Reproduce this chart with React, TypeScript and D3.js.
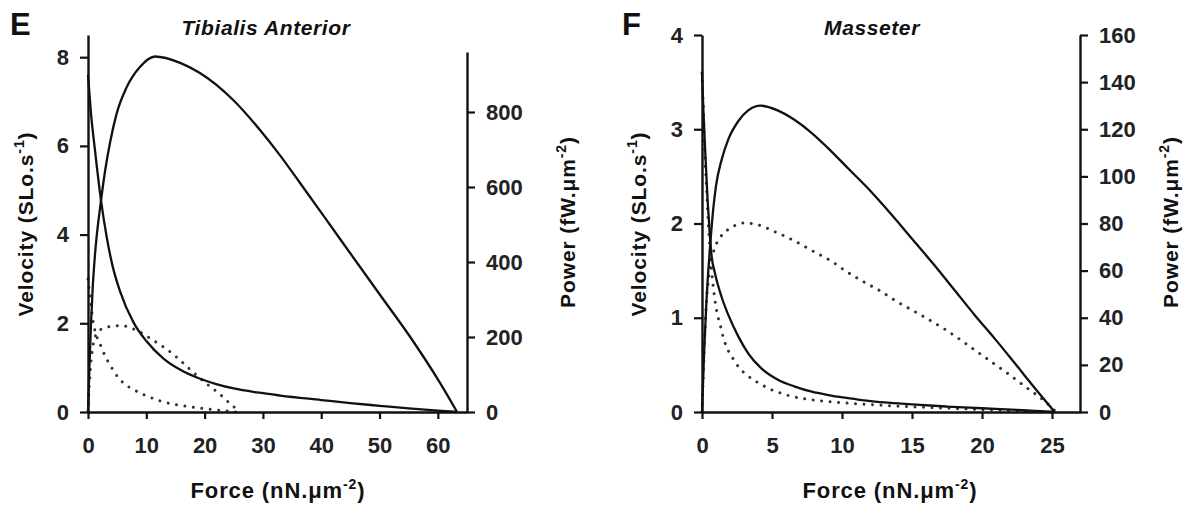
import React, { useEffect, useRef } from "react";
import * as d3 from "d3";

// [force, value] pairs
const taVelocitySolid = [
  [0, 7.6], [0.5, 6.75], [1.2, 5.9], [2.2, 4.8], [3.2, 3.95], [4.2, 3.3], [5.5, 2.72],
  [7.8, 2.02], [10, 1.6], [13, 1.2], [16, 0.94], [19, 0.76], [22, 0.63], [25, 0.53],
  [29, 0.44], [33, 0.37], [40, 0.27], [45, 0.2], [50, 0.14], [55, 0.08], [60, 0.03], [63.4, 0]
];
const taPowerSolid = [
  [0, 0], [0.2, 100], [0.5, 230], [0.8, 330], [1.2, 420], [2.2, 560], [2.9, 640],
  [3.8, 720], [4.9, 795], [6.6, 865], [8.9, 920], [11.5, 948], [15.8, 931], [19.2, 904],
  [24.9, 832], [29.5, 752], [32.9, 685], [36.4, 610], [43.2, 462], [50.1, 312],
  [55.7, 190], [60.4, 77], [63.3, 0]
];
const taVelocityDotted = [
  [0, 3.0], [0.5, 2.4], [1, 1.95], [1.5, 1.7], [2.35, 1.45], [2.9, 1.27], [3.8, 1.06],
  [4.5, 0.9], [5.8, 0.69], [7.3, 0.54], [8.8, 0.44], [10.1, 0.36], [11.7, 0.28],
  [13.1, 0.22], [14.5, 0.18], [16, 0.145], [17.4, 0.12], [18.8, 0.095], [20.3, 0.07],
  [21.8, 0.05], [23.2, 0.03], [25.5, 0]
];
const taPowerDotted = [
  [0, 0], [0.3, 90], [0.7, 160], [1.2, 200], [2, 218], [3, 225], [4.5, 229], [5.5, 230],
  [6.7, 228], [8.1, 219], [9.5, 208], [10.9, 194], [12.4, 179], [13.8, 164], [15.2, 146],
  [16.7, 125], [18.1, 105], [19.5, 86], [21, 67], [22.6, 48], [23.8, 30], [25.3, 8], [25.6, 0]
];

const msVelocitySolid = [
  [0, 3.6], [0.1, 3.2], [0.25, 2.7], [0.4, 2.25], [0.55, 1.9], [0.69, 1.65], [0.93, 1.47],
  [1.4, 1.22], [1.88, 1.03], [2.6, 0.8], [3.31, 0.62], [4.26, 0.46], [5.45, 0.34],
  [6.64, 0.27], [7.84, 0.215], [9.02, 0.18], [10.2, 0.152], [11.4, 0.127], [13.3, 0.099],
  [15, 0.08], [17.5, 0.058], [20, 0.04], [22.5, 0.022], [25.2, 0]
];
const msPowerSolid = [
  [0, 0], [0.15, 25], [0.3, 45], [0.45, 60], [0.6, 72], [0.8, 86], [1.0, 96], [1.4, 107],
  [1.9, 116], [2.6, 123.5], [3.3, 128], [4.2, 130], [5.4, 128], [6.6, 124], [7.8, 118.6],
  [9, 112], [10.5, 103], [12, 94], [13.5, 84], [15, 73.5], [16.5, 63], [18, 52], [19.5, 41],
  [21, 30.5], [22.5, 19.5], [24, 8.5], [25.2, 0]
];
const msVelocityDotted = [
  [0, 3.6], [0.1, 3.2], [0.2, 2.75], [0.33, 2.35], [0.45, 2.0], [0.57, 1.72], [0.69, 1.5],
  [0.81, 1.32], [0.93, 1.18], [1.05, 1.07], [1.29, 0.93], [1.52, 0.79], [1.88, 0.65],
  [2.24, 0.56], [2.6, 0.48], [3.26, 0.385], [3.79, 0.33], [4.38, 0.28], [4.98, 0.235],
  [5.64, 0.2], [6.29, 0.17], [7.5, 0.137], [8.7, 0.115], [9.86, 0.1], [11.05, 0.088],
  [12.2, 0.077], [13.5, 0.066], [15, 0.055], [17.5, 0.04], [20, 0.025], [22.5, 0.012], [25, 0]
];
const msPowerDotted = [
  [0, 0], [0.15, 25], [0.3, 45], [0.5, 58], [0.7, 65], [0.93, 70], [1.29, 74], [1.88, 77.5],
  [2.5, 79.5], [3.07, 80.3], [3.7, 79.8], [4.3, 78.9], [5, 77], [5.6, 75.5], [6.64, 72.5],
  [7.95, 68.2], [9.14, 64.4], [10.3, 59.7], [11.5, 55.4], [12.7, 51.5], [13.8, 47.3],
  [15.8, 40.6], [17.5, 34.5], [19.9, 24.5], [21.8, 16.5], [23.4, 9.4], [24.4, 5], [25.3, 0]
];

const forceTicksE = [0, 10, 20, 30, 40, 50, 60];
const velocityTicksE = [0, 2, 4, 6, 8];
const powerTicksE = [0, 200, 400, 600, 800];
const forceTicksF = [0, 5, 10, 15, 20, 25];
const velocityTicksF = [0, 1, 2, 3, 4];
const powerTicksF = [0, 20, 40, 60, 80, 100, 120, 140, 160];

const FONT = "'Liberation Sans', Arial, Helvetica, sans-serif";

const panels = [
  {
    letter: "E", title: "Tibialis Anterior",
    x: [0, 65], xr: [88, 467], v: [0, 8.5], vr: [412, 35], p: [0, 960], pr: [412, 52],
    xt: forceTicksE, vt: velocityTicksE, pt: powerTicksE,
    vs: taVelocitySolid, ps: taPowerSolid, vd: taVelocityDotted, pd: taPowerDotted,
    letterX: 10, titleX: 266, xLabelX: 278, vLabelX: 25, pLabelX: 567
  },
  {
    letter: "F", title: "Masseter",
    x: [0, 27], xr: [702, 1080], v: [0, 4], vr: [412, 35], p: [0, 160], pr: [412, 35],
    xt: forceTicksF, vt: velocityTicksF, pt: powerTicksF,
    vs: msVelocitySolid, ps: msPowerSolid, vd: msVelocityDotted, pd: msPowerDotted,
    letterX: 622, titleX: 872, xLabelX: 890, vLabelX: 638, pLabelX: 1170
  }
];

export default function App() {
  const ref = useRef(null);

  useEffect(() => {
    const svg = d3.select(ref.current);
    svg.selectAll("*").remove();
    const fmt = d3.format("d");

    panels.forEach(pn => {
      const x = d3.scaleLinear().domain(pn.x).range(pn.xr);
      const yV = d3.scaleLinear().domain(pn.v).range(pn.vr);
      const yP = d3.scaleLinear().domain(pn.p).range(pn.pr);
      const g = svg.append("g");

      const styleAxis = (sel) => {
        sel.select(".domain").attr("stroke", "#111").attr("stroke-width", 2.4);
        sel.selectAll(".tick line").attr("stroke", "#111").attr("stroke-width", 2.2);
        sel.selectAll(".tick text")
          .attr("fill", "#222")
          .style("font-family", FONT)
          .style("font-weight", "bold")
          .style("font-size", "22px");
      };

      // curves
      const lineV = d3.line().x(d => x(d[0])).y(d => yV(d[1])).curve(d3.curveMonotoneX);
      const lineP = d3.line().x(d => x(d[0])).y(d => yP(d[1])).curve(d3.curveMonotoneX);

      const solid = (path) => path.attr("fill", "none").attr("stroke", "#111").attr("stroke-width", 2.3);
      const dotted = (path) => path.attr("fill", "none").attr("stroke", "#333")
        .attr("stroke-width", 3).attr("stroke-linecap", "round").attr("stroke-dasharray", "0.01 8.5");

      g.append("path").attr("d", lineV(pn.vd)).call(dotted);
      g.append("path").attr("d", lineP(pn.pd)).call(dotted);
      g.append("path").attr("d", lineV(pn.vs)).call(solid);
      g.append("path").attr("d", lineP(pn.ps)).call(solid);

      // axes
      g.append("g")
        .attr("transform", `translate(0,${pn.vr[0]})`)
        .call(d3.axisBottom(x).tickValues(pn.xt).tickFormat(fmt).tickSize(7).tickSizeOuter(0).tickPadding(18))
        .call(styleAxis);
      g.append("g")
        .attr("transform", `translate(${pn.xr[0]},0)`)
        .call(d3.axisLeft(yV).tickValues(pn.vt).tickFormat(fmt).tickSize(8).tickSizeOuter(0).tickPadding(11))
        .call(styleAxis);
      g.append("g")
        .attr("transform", `translate(${pn.xr[1]},0)`)
        .call(d3.axisRight(yP).tickValues(pn.pt).tickFormat(fmt).tickSize(8).tickSizeOuter(0).tickPadding(11))
        .call(styleAxis);

      // texts
      const txt = (sel) => sel.attr("fill", "#111").style("font-family", FONT).style("font-weight", "bold");

      g.append("text").attr("x", pn.letterX).attr("y", 35).style("font-size", "31px").text(pn.letter).call(txt);
      g.append("text").attr("x", pn.titleX).attr("y", 35).attr("text-anchor", "middle")
        .style("font-size", "21px").style("font-style", "italic").style("letter-spacing", "0.6px")
        .text(pn.title).call(txt);

      const xl = g.append("text").attr("x", pn.xLabelX).attr("y", 498).attr("text-anchor", "middle")
        .style("font-size", "22px").style("letter-spacing", "0.9px").call(txt);
      xl.append("tspan").text("Force (nN.\u03bcm");
      xl.append("tspan").attr("dy", -9).style("font-size", "14px").text("-2");
      xl.append("tspan").attr("dy", 9).text(")");

      const vl = g.append("text").attr("transform", `translate(${pn.vLabelX + 8},224) rotate(-90)`)
        .attr("text-anchor", "middle").style("font-size", "21px").style("letter-spacing", "0.9px").call(txt);
      vl.append("tspan").text("Velocity (SLo.s");
      vl.append("tspan").attr("dy", -9).style("font-size", "14px").text("-1");
      vl.append("tspan").attr("dy", 9).text(")");

      const pl = g.append("text").attr("transform", `translate(${pn.pLabelX + 8},222) rotate(-90)`)
        .attr("text-anchor", "middle").style("font-size", "21px").style("letter-spacing", "0.9px").call(txt);
      pl.append("tspan").text("Power (fW.\u03bcm");
      pl.append("tspan").attr("dy", -9).style("font-size", "14px").text("-2");
      pl.append("tspan").attr("dy", 9).text(")");
    });
  }, []);

  return (
    <svg
      ref={ref}
      width={1192}
      height={511}
      style={{ position: "absolute", left: 0, top: 0, background: "#fff" }}
    />
  );
}
